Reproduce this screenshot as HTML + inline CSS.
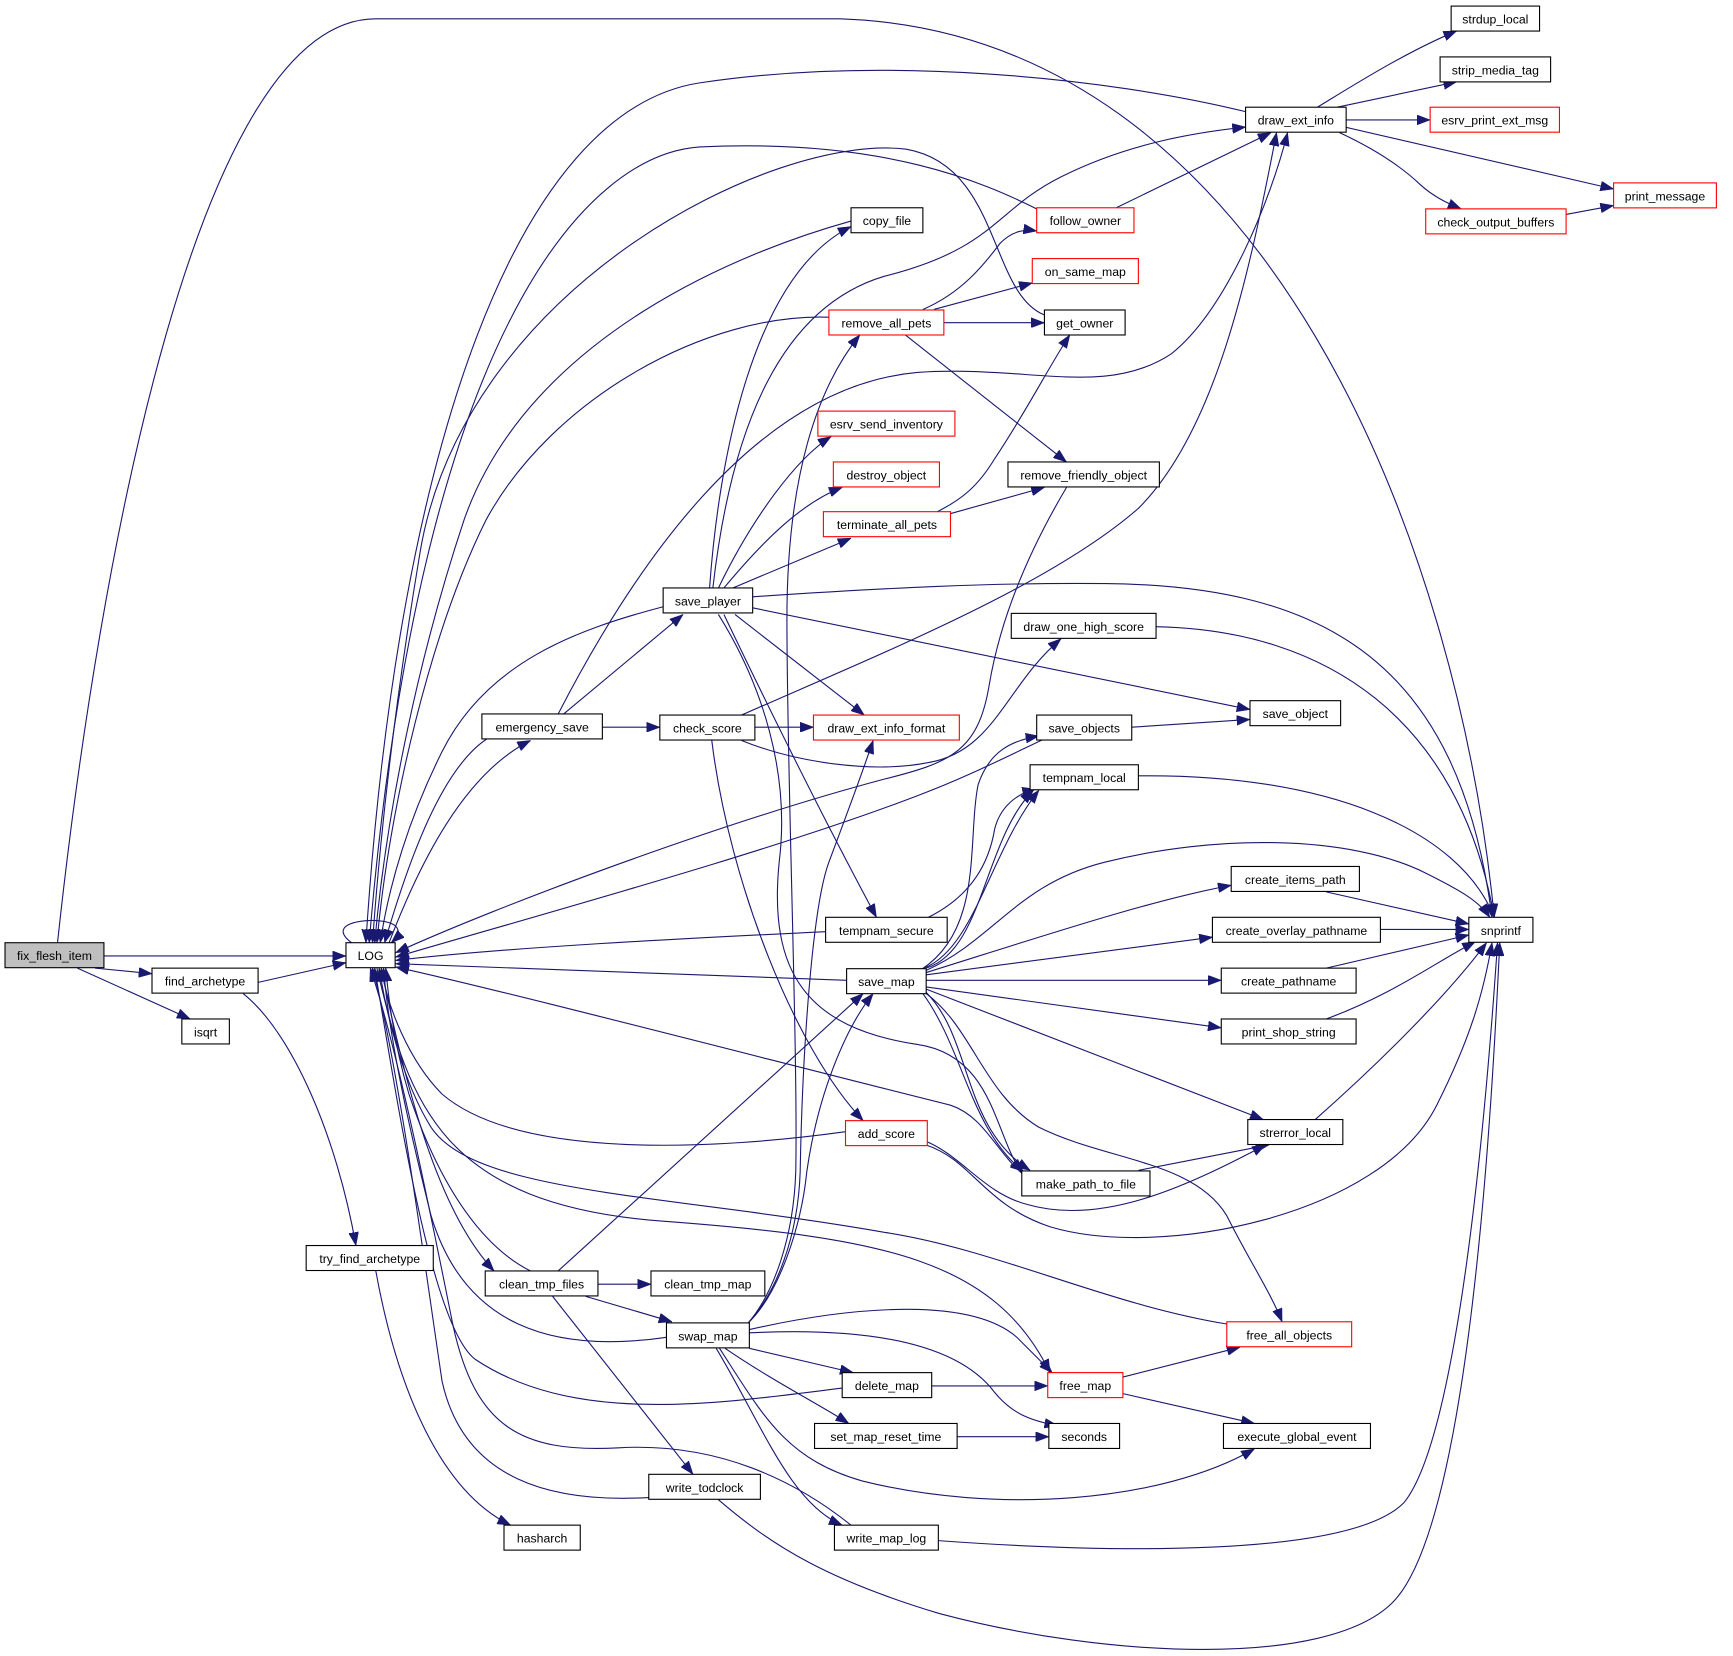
<!DOCTYPE html>
<html><head><meta charset="utf-8"><style>
html,body{margin:0;padding:0;background:#fff;}
svg{display:block;}
text{font-family:"Liberation Sans",Arial,sans-serif;font-size:11.1px;fill:#000;text-anchor:middle;}
.e{fill:none;stroke:#191970;stroke-width:1;marker-end:url(#a);}
.n{fill:#fff;stroke:#000;stroke-width:1;}
.r{fill:#fff;stroke:#ff0000;stroke-width:1;}
</style></head><body>
<svg width="1733" height="1656" viewBox="0 0 1568 1498.4" xmlns="http://www.w3.org/2000/svg">
<defs><marker id="a" markerUnits="userSpaceOnUse" markerWidth="12" markerHeight="9" refX="12" refY="4.5" orient="auto"><path d="M0,0 L12,4.5 L0,9 z" fill="#191970" stroke="#191970" stroke-width="0.5"/></marker></defs>
<g>
<path class="e" d="M94,865 L313,865"/>
<path class="e" d="M86,876 L137.5,881"/>
<path class="e" d="M70,876 L172,922"/>
<path class="e" d="M52,853 C 90,500 180,17 340,17 L 760,17 C 1150,30 1320,500 1352,830"/>
<path class="e" d="M233,889 L313,871"/>
<path class="e" d="M220,899 C 265,935 305,1030 322,1127"/>
<path class="e" d="M340,1150 C 360,1260 400,1350 462,1380"/>
<path class="e" d="M318,853 C 298,838 322,832 340,833 C 360,834 366,842 354,853"/>
<path class="e" d="M1127,101 C 1000,70 800,50 633,75 C 470,100 360,400 331,853"/>
<path class="e" d="M940,190 C 890,165 800,125 633,133 C 530,140 380,300 334,853"/>
<path class="e" d="M945,285 C 895,265 905,150 820,135 C 700,120 420,260 380,500 C 360,620 345,740 337,853"/>
<path class="e" d="M770,200 C 680,225 480,300 420,470 C 380,590 350,730 339,853"/>
<path class="e" d="M750,287 C 640,283 500,360 440,470 C 390,570 352,730 341,853"/>
<path class="e" d="M600,549 C 520,570 440,600 400,680 C 370,740 352,800 344,853"/>
<path class="e" d="M443,667 C 405,690 375,760 348,853"/>
<path class="e" d="M352,853 C 380,780 420,700 480,670"/>
<path class="e" d="M510,646 L618,556"/>
<path class="e" d="M545,658 L597,658"/>
<path class="e" d="M505,646 C 570,520 680,350 830,337 C 930,330 1000,360 1060,320 C 1110,280 1150,180 1165,120"/>
<path class="e" d="M671,647 C 800,590 950,530 1030,460 C 1100,390 1130,250 1155,120"/>
<path class="e" d="M683,658 L736,658"/>
<path class="e" d="M644,670 C 660,800 720,950 781,1014"/>
<path class="e" d="M671,670 C 720,690 790,700 840,690 C 900,680 910,620 960,578"/>
<path class="e" d="M965,441 C 930,500 905,560 895,620 C 885,680 860,690 800,705 C 650,745 450,820 358,862"/>
<path class="e" d="M944,669 C 900,690 870,705 830,720 C 700,770 480,830 358,866"/>
<path class="e" d="M747,843 C 600,850 450,858 358,869"/>
<path class="e" d="M766,887 C 600,880 450,875 358,872"/>
<path class="e" d="M925,1062 C 900,1040 890,1010 860,1000 C 700,960 450,895 358,875"/>
<path class="e" d="M765,1024 C 650,1040 470,1050 400,990 C 370,960 350,910 345,876"/>
<path class="e" d="M1110,1198 C 1000,1180 900,1130 800,1115 C 600,1080 430,1080 390,1020 C 365,980 350,920 343,876"/>
<path class="e" d="M341,876 C 370,1000 400,1090 600,1105 C 800,1120 900,1140 950,1242"/>
<path class="e" d="M603,1210 C 500,1225 420,1200 390,1100 C 370,1020 352,940 347,876"/>
<path class="e" d="M480,1150 C 440,1130 400,1080 370,990 C 358,950 352,910 349,876"/>
<path class="e" d="M345,876 C 370,1000 400,1100 447,1150"/>
<path class="e" d="M762,1256 C 650,1270 520,1290 430,1230 C 390,1200 360,1000 339,876"/>
<path class="e" d="M587,1355 C 500,1360 420,1340 400,1250 C 385,1150 360,960 337,876"/>
<path class="e" d="M770,1380 C 720,1340 650,1305 560,1310 C 470,1315 430,1290 410,1200 C 390,1100 360,950 335,876"/>
<path class="e" d="M642,532 C 650,420 680,250 770,205"/>
<path class="e" d="M645,532 C 660,400 700,280 800,250 C 900,225 900,190 960,160 C 1020,130 1080,120 1127,115"/>
<path class="e" d="M677,1197 C 700,1170 718,1120 720,1060 C 722,950 712,700 712,560 C 712,430 740,350 778,303"/>
<path class="e" d="M650,532 C 680,470 720,415 752,395"/>
<path class="e" d="M655,532 C 690,490 725,455 762,441"/>
<path class="e" d="M663,532 L770,487"/>
<path class="e" d="M681,540 C 800,532 900,527 1000,528 C 1200,530 1320,600 1350,830"/>
<path class="e" d="M681,550 L1131,642"/>
<path class="e" d="M665,556 L782,647"/>
<path class="e" d="M655,556 C 700,650 750,750 793,830"/>
<path class="e" d="M650,556 C 690,620 715,700 705,780 C 695,880 730,930 830,945 C 900,955 900,1030 925,1061"/>
<path class="e" d="M677,1197 C 702,1170 722,1120 724,1060 C 726,950 735,820 750,780 C 765,740 780,700 790,670"/>
<path class="e" d="M677,1197 C 705,1170 725,1110 730,1060 C 740,990 765,930 790,899"/>
<path class="e" d="M505,1150 L781,899"/>
<path class="e" d="M678,1203 C 780,1180 880,1175 920,1210 C 935,1225 945,1235 952,1242"/>
<path class="e" d="M678,1206 C 800,1200 870,1220 900,1260 C 915,1278 930,1285 957,1290"/>
<path class="e" d="M678,1220 L772,1242"/>
<path class="e" d="M656,1220 C 700,1250 740,1270 768,1288"/>
<path class="e" d="M651,1220 C 690,1280 710,1320 780,1340 C 900,1370 1050,1360 1135,1311"/>
<path class="e" d="M648,1220 C 690,1290 715,1360 762,1380"/>
<path class="e" d="M541,1162 L589,1162"/>
<path class="e" d="M530,1173 L608,1196"/>
<path class="e" d="M500,1173 L627,1334"/>
<path class="e" d="M843,1254 L948,1254"/>
<path class="e" d="M866,1300 L949,1300"/>
<path class="e" d="M1016,1246 L1122,1219"/>
<path class="e" d="M1016,1261 L1135,1288"/>
<path class="e" d="M650,1357 C 700,1400 750,1430 850,1460 C 1000,1500 1200,1510 1260,1450 C 1330,1380 1350,1000 1357,853"/>
<path class="e" d="M849,1394 C 1000,1405 1220,1410 1270,1360 C 1320,1300 1345,1000 1355,853"/>
<path class="e" d="M838,1036 C 880,1050 890,1090 950,1110 C 1050,1140 1250,1100 1300,1000 C 1330,940 1342,900 1350,853"/>
<path class="e" d="M836,1032 C 870,1045 890,1080 930,1090 C 1000,1110 1080,1070 1145,1036"/>
<path class="e" d="M1030,1059 L1148,1036"/>
<path class="e" d="M1190,1013 C 1250,960 1310,900 1345,853"/>
<path class="e" d="M838,895 L1143,1013"/>
<path class="e" d="M838,899 C 880,930 890,990 940,1020 C 1000,1050 1080,1050 1110,1100 C 1130,1140 1150,1170 1160,1196"/>
<path class="e" d="M838,898 C 880,940 870,1020 932,1059"/>
<path class="e" d="M835,899 C 872,950 878,1022 926,1060"/>
<path class="e" d="M838,893 L1105,930"/>
<path class="e" d="M838,887 L1105,887"/>
<path class="e" d="M838,882 L1097,848"/>
<path class="e" d="M838,880 C 950,845 1040,815 1114,801"/>
<path class="e" d="M838,878 C 900,850 920,800 1000,780 C 1100,755 1220,755 1290,790 C 1320,805 1338,815 1348,830"/>
<path class="e" d="M838,876 C 890,860 890,760 935,715"/>
<path class="e" d="M836,876 C 882,858 896,770 940,715"/>
<path class="e" d="M834,877 C 890,840 875,760 885,710 C 895,680 915,670 940,666"/>
<path class="e" d="M840,830 C 880,810 895,780 900,750 C 905,730 920,718 937,714"/>
<path class="e" d="M1030,702 C 1200,700 1320,750 1352,830"/>
<path class="e" d="M1024,658 L1131,651"/>
<path class="e" d="M1046,567 C 1200,570 1320,650 1352,830"/>
<path class="e" d="M1200,807 L1329,836"/>
<path class="e" d="M1249,841 L1329,841"/>
<path class="e" d="M1200,876 L1329,846"/>
<path class="e" d="M1200,922 C 1260,900 1300,870 1335,852"/>
<path class="e" d="M835,280 C 870,265 890,240 905,220 C 915,210 925,207 938,209"/>
<path class="e" d="M845,280 L934,256"/>
<path class="e" d="M854,292 L945,292"/>
<path class="e" d="M819,303 L965,418"/>
<path class="e" d="M848,463 C 870,452 885,440 900,415 C 930,370 950,330 968,303"/>
<path class="e" d="M859,465 L945,441"/>
<path class="e" d="M1010,188 L1150,120"/>
<path class="e" d="M1192,97 C 1220,80 1270,48 1318,28"/>
<path class="e" d="M1210,97 L1318,74"/>
<path class="e" d="M1218,108.5 L1294,108.5"/>
<path class="e" d="M1217,115 L1460,171"/>
<path class="e" d="M1212,120 C 1240,133 1265,148 1285,167 C 1297,178 1310,184 1322,189"/>
<path class="e" d="M1417,194 L1460,186"/>
</g>
<g>
<rect x="4.5" y="853" width="89.5" height="22.6" fill="#bfbfbf" stroke="#000" stroke-width="1"/><text x="49.25" y="868.8">fix_flesh_item</text>
<rect class="n" x="137.5" y="876" width="96" height="22.6"/><text x="185.5" y="891.8">find_archetype</text>
<rect class="n" x="164.5" y="922" width="43" height="22.6"/><text x="186" y="937.8">isqrt</text>
<rect class="n" x="313" y="853" width="44.5" height="22.6"/><text x="335.25" y="868.8">LOG</text>
<rect class="n" x="277" y="1127" width="115" height="22.6"/><text x="334.5" y="1142.8">try_find_archetype</text>
<rect class="n" x="456" y="1380" width="69" height="22.6"/><text x="490.5" y="1395.8">hasharch</text>
<rect class="n" x="436" y="646" width="109" height="22.6"/><text x="490.5" y="661.8">emergency_save</text>
<rect class="n" x="439" y="1150" width="102" height="22.6"/><text x="490" y="1165.8">clean_tmp_files</text>
<rect class="n" x="600" y="532" width="81" height="22.6"/><text x="640.5" y="547.8">save_player</text>
<rect class="n" x="597" y="647" width="86" height="22.6"/><text x="640" y="662.8">check_score</text>
<rect class="n" x="589" y="1150" width="103" height="22.6"/><text x="640.5" y="1165.8">clean_tmp_map</text>
<rect class="n" x="603" y="1197" width="75" height="22.6"/><text x="640.5" y="1212.8">swap_map</text>
<rect class="n" x="587" y="1334" width="101" height="22.6"/><text x="637.5" y="1349.8">write_todclock</text>
<rect class="n" x="770" y="188" width="65" height="22.6"/><text x="802.5" y="203.8">copy_file</text>
<rect class="r" x="750" y="280.5" width="104" height="22.6"/><text x="802" y="296.3">remove_all_pets</text>
<rect class="r" x="740" y="372" width="124" height="22.6"/><text x="802" y="387.8">esrv_send_inventory</text>
<rect class="r" x="754" y="418" width="96" height="22.6"/><text x="802" y="433.8">destroy_object</text>
<rect class="r" x="745" y="463" width="115" height="22.6"/><text x="802.5" y="478.8">terminate_all_pets</text>
<rect class="r" x="736" y="647" width="132" height="22.6"/><text x="802" y="662.8">draw_ext_info_format</text>
<rect class="n" x="747" y="830" width="110" height="22.6"/><text x="802" y="845.8">tempnam_secure</text>
<rect class="n" x="766" y="876.5" width="72" height="22.6"/><text x="802" y="892.3">save_map</text>
<rect class="r" x="765" y="1014" width="74" height="22.6"/><text x="802" y="1029.8">add_score</text>
<rect class="n" x="762" y="1242" width="81" height="22.6"/><text x="802.5" y="1257.8">delete_map</text>
<rect class="n" x="737" y="1288" width="129" height="22.6"/><text x="801.5" y="1303.8">set_map_reset_time</text>
<rect class="n" x="755" y="1380" width="94" height="22.6"/><text x="802" y="1395.8">write_map_log</text>
<rect class="r" x="938" y="188" width="88" height="22.6"/><text x="982" y="203.8">follow_owner</text>
<rect class="r" x="934" y="234" width="96" height="22.6"/><text x="982" y="249.8">on_same_map</text>
<rect class="n" x="945" y="280.5" width="73" height="22.6"/><text x="981.5" y="296.3">get_owner</text>
<rect class="n" x="912" y="418" width="137" height="22.6"/><text x="980.5" y="433.8">remove_friendly_object</text>
<rect class="n" x="915" y="555" width="131" height="22.6"/><text x="980.5" y="570.8">draw_one_high_score</text>
<rect class="n" x="938" y="647" width="86" height="22.6"/><text x="981" y="662.8">save_objects</text>
<rect class="n" x="932" y="692" width="98" height="22.6"/><text x="981" y="707.8">tempnam_local</text>
<rect class="n" x="924.5" y="1059.5" width="116" height="22.6"/><text x="982.5" y="1075.3">make_path_to_file</text>
<rect class="r" x="948" y="1242" width="68" height="22.6"/><text x="982" y="1257.8">free_map</text>
<rect class="n" x="949" y="1288" width="64" height="22.6"/><text x="981" y="1303.8">seconds</text>
<rect class="n" x="1127" y="97" width="91" height="22.6"/><text x="1172.5" y="112.8">draw_ext_info</text>
<rect class="n" x="1131" y="634" width="82" height="22.6"/><text x="1172" y="649.8">save_object</text>
<rect class="n" x="1114" y="784" width="116" height="22.6"/><text x="1172" y="799.8">create_items_path</text>
<rect class="n" x="1097" y="830" width="152" height="22.6"/><text x="1173" y="845.8">create_overlay_pathname</text>
<rect class="n" x="1105" y="876" width="122" height="22.6"/><text x="1166" y="891.8">create_pathname</text>
<rect class="n" x="1105" y="922" width="122" height="22.6"/><text x="1166" y="937.8">print_shop_string</text>
<rect class="n" x="1129" y="1013" width="86" height="22.6"/><text x="1172" y="1028.8">strerror_local</text>
<rect class="r" x="1110" y="1196" width="113" height="22.6"/><text x="1166.5" y="1211.8">free_all_objects</text>
<rect class="n" x="1107" y="1288" width="133" height="22.6"/><text x="1173.5" y="1303.8">execute_global_event</text>
<rect class="n" x="1329" y="830" width="58" height="22.6"/><text x="1358" y="845.8">snprintf</text>
<rect class="n" x="1313" y="5.5" width="80" height="22.6"/><text x="1353" y="21.3">strdup_local</text>
<rect class="n" x="1303" y="51.5" width="100" height="22.6"/><text x="1353" y="67.3">strip_media_tag</text>
<rect class="r" x="1294" y="97" width="117" height="22.6"/><text x="1352.5" y="112.8">esrv_print_ext_msg</text>
<rect class="r" x="1460" y="165.5" width="93" height="22.6"/><text x="1506.5" y="181.3">print_message</text>
<rect class="r" x="1290" y="189" width="127" height="22.6"/><text x="1353.5" y="204.8">check_output_buffers</text>
</g>
</svg>
</body></html>
